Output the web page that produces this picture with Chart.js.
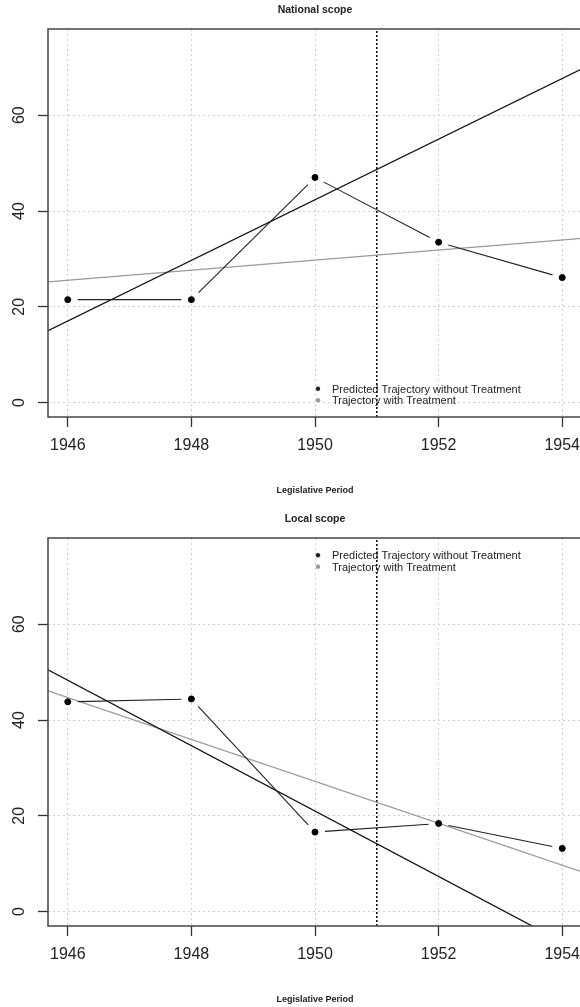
<!DOCTYPE html>
<html>
<head>
<meta charset="utf-8">
<script src="https://cdn.jsdelivr.net/npm/chart.js@4.4.1/dist/chart.umd.min.js"></script>
<style>
  html, body { margin: 0; padding: 0; background: #fff; overflow: hidden; }
  #wrap { position: relative; width: 580px; height: 1007px; overflow: hidden; }
  canvas { position: absolute; left: 0; }
</style>
</head>
<body>
<div id="wrap">
  <canvas id="national" width="586" height="504" style="top:0;width:586px;height:504px"></canvas>
  <canvas id="local" width="586" height="503" style="top:504px;width:586px;height:503px"></canvas>
</div>
<script>
// Synthetic-control style plot: observed trajectory vs two fitted trends,
// one panel per scope. Values read off the reference picture.

const years = [1946, 1948, 1950, 1952, 1954];
const nationalObserved = [21.5, 21.5, 47.0, 33.5, 26.1];
const localObserved = [43.8, 44.4, 16.6, 18.4, 13.2];

// fitted trend lines, given by their values at the two ends of the x range
const xRange = [1945.68, 1954.32];
const yRange = [-3, 78];
const nationalWithout = [15.0, 69.7];
const nationalWith = [25.2, 34.3];
const localWithout = [50.5, -8.5];
const localWith = [46.1, 8.3];

const treatmentYear = 1951;
const xTicks = [1946, 1948, 1950, 1952, 1954];
const yTicks = [0, 20, 40, 60];
const legendLabels = ['Predicted Trajectory without Treatment', 'Trajectory with Treatment'];

const FONT = "'Liberation Sans', Arial, sans-serif";
const INK = '#222';
const GREY = '#9a9a9a';

const pairs = (xs, ys) => xs.map((x, i) => ({ x, y: ys[i] }));

// R-style decorations: box, rotated y labels, titles, legend, and the
// type="b" connecting segments that stop short of each point.
const rDecor = {
    id: 'rDecor',
    afterDatasetsDraw(chart, args, opts) {
        const { ctx, chartArea: a, scales: { x, y } } = chart;
        const pts = chart.data.datasets[0].data;
        ctx.save();
        ctx.beginPath();
        ctx.rect(a.left, a.top, a.right - a.left, a.bottom - a.top);
        ctx.clip();
        ctx.strokeStyle = INK;
        ctx.lineWidth = 1.1;
        const gap = 10;
        for (let i = 0; i < pts.length - 1; i++) {
            const x1 = x.getPixelForValue(pts[i].x), y1 = y.getPixelForValue(pts[i].y);
            const x2 = x.getPixelForValue(pts[i + 1].x), y2 = y.getPixelForValue(pts[i + 1].y);
            const d = Math.hypot(x2 - x1, y2 - y1);
            if (d <= gap * 2) continue;
            const ux = (x2 - x1) / d, uy = (y2 - y1) / d;
            ctx.beginPath();
            ctx.moveTo(x1 + ux * gap, y1 + uy * gap);
            ctx.lineTo(x2 - ux * gap, y2 - uy * gap);
            ctx.stroke();
        }
        ctx.restore();
    },
    afterDraw(chart, args, opts) {
        const { ctx, chartArea: a, scales: { x, y } } = chart;
        ctx.save();
        // box
        ctx.strokeStyle = '#444';
        ctx.lineWidth = 1.5;
        ctx.strokeRect(a.left, a.top, a.right - a.left, a.bottom - a.top);

        // y tick labels, parallel to the axis
        ctx.fillStyle = INK;
        ctx.font = '16px ' + FONT;
        ctx.textAlign = 'center';
        ctx.textBaseline = 'middle';
        yTicks.forEach((v) => {
            ctx.save();
            ctx.translate(20, y.getPixelForValue(v));
            ctx.rotate(-Math.PI / 2);
            ctx.fillText(String(v), 0, 0);
            ctx.restore();
        });

        // title and x axis title
        const cx = (a.left + a.right) / 2;
        ctx.font = 'bold 10.5px ' + FONT;
        ctx.fillText(opts.title, cx, a.top - 19);
        ctx.font = 'bold 9px ' + FONT;
        ctx.fillText('Legislative Period', cx, a.bottom + 73.5);

        // legend (no box)
        const lx = x.getPixelForValue(opts.legendX);
        let ly = y.getPixelForValue(opts.legendY);
        ctx.font = '11px ' + FONT;
        ctx.textAlign = 'left';
        [INK, GREY].forEach((col, i) => {
            ctx.fillStyle = col;
            ctx.beginPath();
            ctx.arc(lx + 3, ly - 1, 2.2, 0, Math.PI * 2);
            ctx.fill();
            ctx.fillStyle = INK;
            ctx.fillText(legendLabels[i], lx + 17, ly);
            ly += 11.5;
        });
        ctx.restore();
    },
};

function makeChart(id, observed, without, withT, title, legendY, padTop, axisH) {
    return new Chart(document.getElementById(id), {
        type: 'scatter',
        data: {
            datasets: [
                {
                    data: pairs(years, observed),
                    backgroundColor: '#000',
                    borderColor: '#000',
                    pointRadius: 3,
                    pointHoverRadius: 3,
                    showLine: false,
                    order: 0,
                },
                {
                    data: pairs(xRange, without),
                    showLine: true,
                    borderColor: '#111',
                    borderWidth: 1.3,
                    pointRadius: 0,
                    order: 1,
                },
                {
                    data: pairs(xRange, withT),
                    showLine: true,
                    borderColor: GREY,
                    borderWidth: 1.3,
                    pointRadius: 0,
                    order: 2,
                },
                {
                    data: pairs([treatmentYear, treatmentYear], yRange),
                    showLine: true,
                    borderColor: '#111',
                    borderWidth: 1.6,
                    borderDash: [2, 2],
                    pointRadius: 0,
                    order: 3,
                },
            ],
        },
        options: {
            responsive: false,
            animation: false,
            devicePixelRatio: 1,
            events: [],
            layout: { padding: { top: padTop, right: 2, left: 0, bottom: 0 } },
            plugins: {
                legend: { display: false },
                tooltip: { enabled: false },
                rDecor: { title, legendX: 1950, legendY },
            },
            scales: {
                x: {
                    type: 'linear',
                    min: xRange[0],
                    max: xRange[1],
                    afterBuildTicks: (s) => { s.ticks = xTicks.map((v) => ({ value: v })); },
                    afterFit: (s) => {
                        s.height = axisH;
                        s.paddingLeft = 0;
                        s.paddingRight = 0;
                    },
                    grid: { color: '#d0d0d0', tickColor: '#333', tickLength: 10, tickWidth: 1.3, tickBorderDash: [] },
                    border: { display: false, dash: [2, 3] },
                    ticks: {
                        autoSkip: false,
                        maxRotation: 0,
                        padding: 9,
                        color: INK,
                        font: { family: FONT, size: 16 },
                        callback: (v) => String(v),
                    },
                },
                y: {
                    type: 'linear',
                    min: yRange[0],
                    max: yRange[1],
                    afterBuildTicks: (s) => { s.ticks = yTicks.map((v) => ({ value: v })); },
                    afterFit: (s) => {
                        s.width = 48;
                        s.paddingTop = 0;
                        s.paddingBottom = 0;
                    },
                    grid: { color: '#d0d0d0', tickColor: '#333', tickLength: 10, tickWidth: 1.3, tickBorderDash: [] },
                    border: { display: false, dash: [2, 3] },
                    ticks: { display: false },
                },
            },
        },
        plugins: [rDecor],
    });
}

makeChart('national', nationalObserved, nationalWithout, nationalWith, 'National scope', 2.7, 29, 87);
makeChart('local', localObserved, localWithout, localWith, 'Local scope', 74.2, 34, 81);
</script>
</body>
</html>
